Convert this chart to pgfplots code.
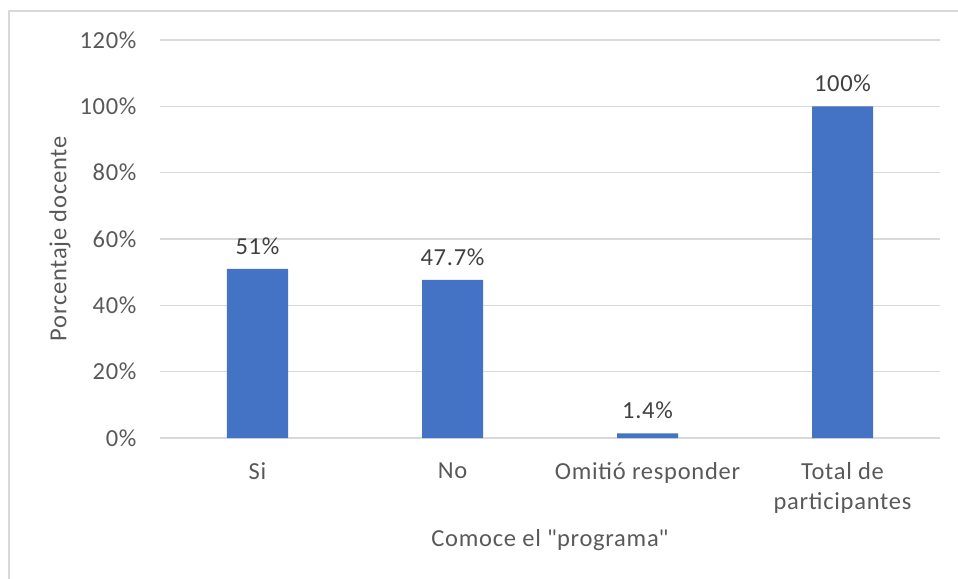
\documentclass[border=0pt]{standalone}
\usepackage{pgfplots}
\pgfplotsset{compat=1.18}
\usepackage{fontspec}
\setmainfont{Carlito}[LetterSpace=3]
\newfontfamily\rawfont{Carlito}[LetterSpace=3]
\definecolor{barblue}{HTML}{4472C4}
\definecolor{txtgrey}{HTML}{595959}
\definecolor{lblgrey}{HTML}{404040}
\definecolor{gridgrey}{HTML}{D9D9D9}
\begin{document}
\begin{tikzpicture}
\useasboundingbox (-160bp,-141bp) rectangle (798bp,438bp);
\draw[gridgrey, line width=1.5bp] (-151bp,-141bp) -- (-151bp,427bp) -- (798bp,427bp);
\begin{axis}[
  at={(0,0)}, anchor=south west,
  scale only axis,
  width=780bp, height=398bp,
  xmin=-0.5, xmax=3.5,
  ymin=0, ymax=120,
  ytick={0,20,40,60,80,100,120},
  xtick={0,1,2,3},
  xticklabels={Si,No,Omitió responder,{Total de\\participantes}},
  yticklabel={\pgfmathparse{int(\tick)}\pgfmathresult\%},
  /pgf/number format/assume math mode=true,
  axis line style={draw=none},
  tick style={draw=none},
  ymajorgrids,
  grid style={gridgrey, line width=1.2bp},
  font=\fontsize{24.5bp}{30bp}\selectfont,
  tick label style={text=txtgrey},
  xticklabel style={align=center, yshift=-21bp},
  yticklabel style={xshift=-20bp},
  xlabel={Comoce el {\rawfont"}programa{\rawfont"}},
  ylabel={Porcentaje docente},
  label style={text=txtgrey},
  xlabel style={yshift=-9bp},
  ylabel style={yshift=2bp},
  point meta=explicit symbolic,
  nodes near coords,
  nodes near coords style={text=lblgrey, anchor=south, yshift=11bp},
]
\addplot[ybar, bar width=61bp, fill=barblue, draw=none] table[meta=lab] {
x y lab
0 51 51\%
1 47.7 47.7\%
2 1.4 1.4\%
3 100 100\%
};
\end{axis}
\end{tikzpicture}
\end{document}
